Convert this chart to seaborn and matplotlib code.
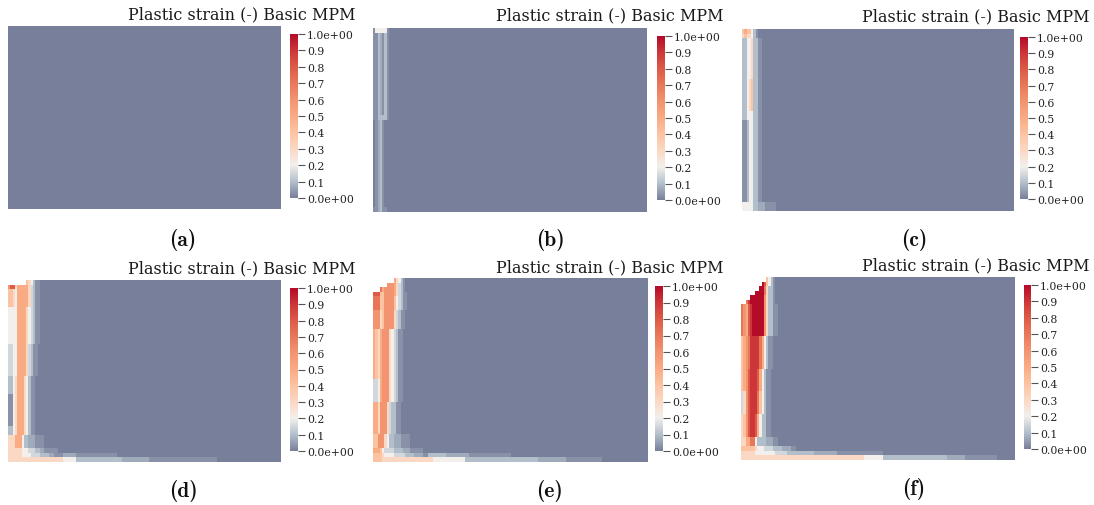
import os
import numpy as np
import matplotlib
matplotlib.use("Agg")
import matplotlib.pyplot as plt
from matplotlib import font_manager
from matplotlib.colors import LinearSegmentedColormap
import seaborn as sns

# ---------------- colour scale (plastic strain, 0 .. 1) ----------------
cmap_positions = [0.0, 0.1, 0.2, 0.3, 0.4, 0.5, 0.6, 0.7, 0.8, 0.9, 1.0]
cmap_colors = ["#787f9b", "#b3c0cb", "#f2efec", "#fbd8c3", "#fcc3a3",
               "#f9ab84", "#f29470", "#e8785a", "#dd5b47", "#cc3739", "#b40c28"]

tick_values = [0.0, 0.1, 0.2, 0.3, 0.4, 0.5, 0.6, 0.7, 0.8, 0.9, 1.0]
tick_labels = ["0.0e+00", "0.1", "0.2", "0.3", "0.4", "0.5",
               "0.6", "0.7", "0.8", "0.9", "1.0e+00"]

panel_labels = ["(a)", "(b)", "(c)", "(d)", "(e)", "(f)"]
field_title = "Plastic strain (-) Basic MPM"

# ---------------- strain field codes ----------------
# each character is one cell value; '-' marks cells with no material
strain_codes = {"-": np.nan, "0": 0.0, ".": 0.03, ":": 0.07, "1": 0.1, "+": 0.15,
                "2": 0.2, "3": 0.3, "4": 0.4, "5": 0.5, "6": 0.6, "7": 0.7,
                "8": 0.8, "9": 0.9, "X": 1.0}

N_ROWS, N_COLS, N_LEFT = 40, 120, 24

# left strip (first 24 columns), given as (row count, row codes) from the top
band_a = []
band_b = [
    (1, ".22222."),
    (18, "..1:.1."),
    (1, "..1111."),
    (19, "0.:1."),
    (1, "..:1.."),
]
band_c = [
    (1, "454421."),
    (1, "343321."),
    (9, "1122311.."),
    (7, "1123411.."),
    (2, "1122211.."),
    (18, "..12211.."),
    (2, "2222211:::....."),
]
band_d = [
    (1, "--------4321.."),
    (1, "6883555553+1.."),
    (4, "4432555553+1.."),
    (8, "2222555532+1.."),
    (7, "++2255553+1.."),
    (4, "1123555321.."),
    (7, "..23555321.."),
    (2, "1123555321.."),
    (3, "333555211:::...."),
    (1, "333333222+++11::......"),
    (1, "3333332222++++1111::...."),
    (1, "333333333333333333333333"),
]
band_e = [
    (1, "---------5321."),
    (1, "------66653+1."),
    (1, "---75666653+1."),
    (1, "88844666653+1.."),
    (3, "77744666642+1.."),
    (4, "6663466663+1.."),
    (11, "543566632+1.."),
    (5, "++2566632+1.."),
    (7, "5536663+11.."),
    (3, "446663211:::...."),
    (1, "55542++++1111:::......"),
    (1, "444432222+++++1111::::.."),
    (1, "444433333333333333333333"),
]
band_f = [
    (1, "-----------421."),
    (1, "---------X8421."),
    (1, "--------XX7311."),
    (1, "------XXXX7311."),
    (1, "----XXXXXX6311."),
    (1, "--79XXXXXX6311."),
    (7, "76589XXXXX6311.."),
    (7, "456799997521.."),
    (5, "45689998521.."),
    (5, "+3689997421.."),
    (5, "34689985211.."),
    (2, "33557721111:::.."),
    (1, "4444443222++++1111::::.."),
    (1, "333333222222222+++++1111"),
    (1, "333333333333333333333333"),
]

# bottom rows across the full width, two columns per code
base_a = []
base_b = []
base_c = []
base_d = [
    "000000000000:::.........",
    "3333333333322221111111111::::::...............",
]
base_e = [
    "0000000000001111:::::.........",
    "333333333333322222221111111111111111::::::........",
]
base_f = [
    "0000000000001111:::::..........",
    "333333333333333333333333333222211111111111111::::.......",
]


def decode(row, width):
    row = row[:width].ljust(width, "0")
    return [strain_codes[ch] for ch in row]


def build_field(band, base):
    field = np.zeros((N_ROWS, N_COLS))
    if base:
        rows = np.array([decode(r, N_COLS // 2) for r in base])
        field[N_ROWS - len(base):, :] = np.repeat(rows, 2, axis=1)
    r0 = 0
    for count, codes in band:
        field[r0:r0 + count, :N_LEFT] = decode(codes, N_LEFT)
        r0 += count
    return field


fields = [build_field(band_a, base_a), build_field(band_b, base_b),
          build_field(band_c, base_c), build_field(band_d, base_d),
          build_field(band_e, base_e), build_field(band_f, base_f)]

# ---------------- layout (pixel boxes: left, top, right, bottom) ----------------
W, H = 1094, 506
field_boxes = [(8, 27, 281, 210), (373, 29, 647, 213), (742, 30, 1014, 212),
               (8, 281, 281, 463), (373, 279, 648, 463), (741, 278, 1015, 461)]
cbar_boxes = [(290, 35, 298, 199), (657, 37, 665, 201), (1020, 38, 1028, 200),
              (290, 289, 298, 452), (655, 287, 663, 452), (1024, 286, 1031, 450)]
title_anchor = [(356, 14.5), (724, 16), (1090, 17), (355, 268.5), (724, 267.5), (1090, 266)]
label_anchor = [(183, 240), (550, 240), (914, 240), (183, 491), (550, 491), (914, 489)]


def to_fig(box):
    l, t, r, b = box
    return [l / W, 1 - b / H, (r - l) / W, (b - t) / H]


sns.set_theme(style="white")
plt.rcParams["font.family"] = ["DejaVu Serif"]

cm_bold_path = os.path.join(matplotlib.get_data_path(), "fonts", "ttf", "cmb10.ttf")
label_font = font_manager.FontProperties(fname=cm_bold_path, size=15.5)

cmap = LinearSegmentedColormap.from_list(
    "strain", list(zip(cmap_positions, cmap_colors)))

fig = plt.figure(figsize=(W / 100, H / 100), dpi=100)
fig.patch.set_facecolor("white")

for i in range(6):
    ax = fig.add_axes(to_fig(field_boxes[i]))
    cax = fig.add_axes(to_fig(cbar_boxes[i]))
    ax.set_facecolor("white")
    sns.heatmap(fields[i], ax=ax, cmap=cmap, vmin=0.0, vmax=1.0,
                cbar_ax=cax, xticklabels=False, yticklabels=False,
                linewidths=0, rasterized=True)
    cb = ax.collections[0].colorbar
    cb.set_ticks(tick_values)
    cb.set_ticklabels(tick_labels)
    cb.outline.set_visible(False)
    cax.tick_params(axis="y", length=5, width=0.8, color="#555555",
                    labelsize=7.8, pad=1.5, labelcolor="#222222")
    for lab in cax.get_yticklabels():
        lab.set_family("DejaVu Serif")

    tx, ty = title_anchor[i]
    fig.text(tx / W, 1 - ty / H, field_title, ha="right", va="center",
             fontsize=11.5, color="#1a1a1a", family="DejaVu Serif")
    lx, ly = label_anchor[i]
    fig.text(lx / W, 1 - ly / H, panel_labels[i], ha="center", va="center",
             fontproperties=label_font, color="#111111")

fig.savefig("out.png", dpi=100, facecolor="white")
